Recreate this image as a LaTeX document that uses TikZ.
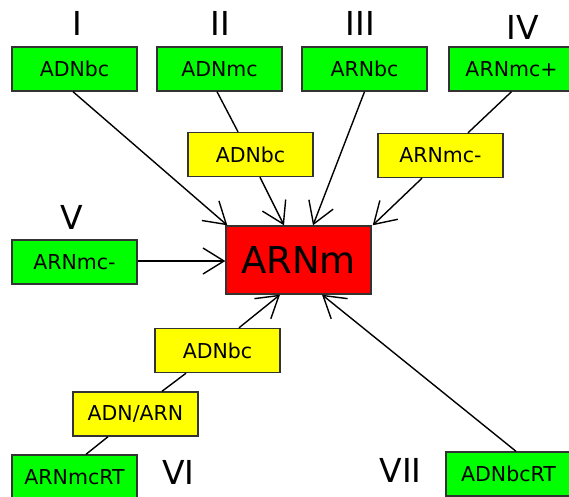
\documentclass[tikz,border=0pt]{standalone}
\usepackage{fontspec}
\setmainfont{DejaVu Sans}
\usetikzlibrary{arrows.meta}
\definecolor{bgreen}{HTML}{00FF00}
\definecolor{byellow}{HTML}{FFFF00}
\definecolor{bred}{HTML}{FF0000}
\definecolor{bord}{HTML}{333333}
\tikzset{
  box/.style={draw=bord, line width=1.4pt, minimum width=125pt, minimum height=44pt, inner sep=0pt, font=\fontsize{20.5}{24}\selectfont},
  gbox/.style={box, fill=bgreen},
  ybox/.style={box, fill=byellow},
  rbox/.style={draw=bord, line width=1.4pt, fill=bred, minimum width=145pt, minimum height=68pt, inner sep=0pt, font=\fontsize{37}{42}\selectfont},
  roman/.style={inner sep=0pt, font=\fontsize{33}{36}\selectfont},
  arr/.style={line width=1.4pt, -{Straight Barb[length=21pt,width=26pt,line width=1.4pt]}},
  ln/.style={line width=1.4pt}
}
\begin{document}
\begin{tikzpicture}[x=1pt,y=-1pt]
\useasboundingbox (0,0) rectangle (569,496);
\clip (0,0) rectangle (569,496);
% nodes
\node[rbox] (R) at (298.5,260) {ARNm};
\node[gbox] (I) at (74.5,69) {ADNbc};
\node[gbox] (II) at (219.5,69) {ADNmc};
\node[gbox] (III) at (364.5,69) {ARNbc};
\node[gbox] (IV) at (511.5,69) {ARNmc+};
\node[gbox] (V) at (74.5,262) {ARNmc-};
\node[gbox] (VI) at (74.5,477) {ARNmcRT};
\node[gbox] (VII) at (508.5,474) {ADNbcRT};
\node[ybox] (yA) at (250.5,154.5) {ADNbc};
\node[ybox] (yB) at (440.5,155.5) {ARNmc-};
\node[ybox] (yC) at (217.5,350.5) {ADNbc};
\node[ybox] (yD) at (135.5,414) {ADN/ARN};
% roman numerals
\node[roman] (nI) at (77,23.5) {I};
\node[roman] (nII) at (220,23.5) {II};
\node[roman] (nIII) at (360.5,23.5) {III};
\node[roman] (nIV) at (523,27) {IV};
\node[roman] (nV) at (72,217.5) {V};
\node[roman] (nVI) at (178.5,472) {VI};
\node[roman] (nVII) at (400.5,470) {VII};
% connectors
\draw[arr] ([xshift=-1.5pt]I.south) -- ([xshift=2pt]R.north west);
\draw[ln] ([xshift=-2.5pt]II.south) -- ([xshift=-12.5pt]yA.north);
\draw[arr] ([xshift=9.5pt]yA.south) -- ([xshift=-14.5pt]R.north);
\draw[arr] (III.south) -- ([xshift=14.5pt]R.north);
\draw[ln] (IV.south) -- ([xshift=27.5pt]yB.north);
\draw[arr] ([xshift=-18.5pt]yB.south) -- ([xshift=1pt]R.north east);
\draw[arr] (V.east |- 0,261) -- (R.west |- 0,261);
\draw[ln] ([xshift=11.5pt]VI.north) -- ([xshift=-27.5pt]yD.south);
\draw[ln] ([xshift=26.5pt]yD.north) -- ([xshift=-31.5pt]yC.south);
\draw[arr] ([xshift=21.5pt]yC.north) -- ([xshift=-18.5pt]R.south);
\draw[arr] ([xshift=7.5pt]VII.north) -- ([xshift=23.5pt]R.south);
\end{tikzpicture}
\end{document}
